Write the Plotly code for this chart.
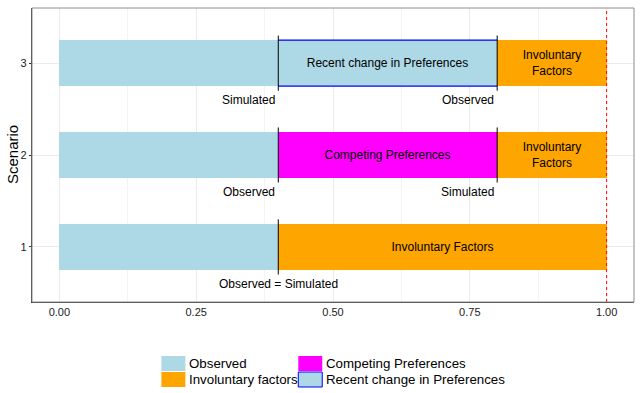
import plotly.graph_objects as go

# ---- data ----
scenarios = [1, 2, 3]
observed_start = [0.0, 0.0, 0.0]
observed_end = [0.4, 0.4, 0.4]

competing_scenario = [2]
competing_start = [0.4]
competing_end = [0.8]

recent_scenario = [3]
recent_start = [0.4]
recent_end = [0.8]

involuntary_start = [0.4, 0.8, 0.8]
involuntary_end = [1.0, 1.0, 1.0]
involuntary_text = ["Involuntary Factors", "Involuntary<br>Factors", "Involuntary<br>Factors"]

# black separator marks: (scenario, x)
mark_scenario = [1, 2, 2, 3, 3]
mark_x = [0.4, 0.4, 0.8, 0.4, 0.8]

# labels under the bars
label_scenario = [1, 2, 2, 3, 3]
label_x = [0.4, 0.4, 0.8, 0.4, 0.8]
label_text = ["Observed = Simulated", "Observed", "Simulated", "Simulated", "Observed"]
label_anchor = ["center", "right", "right", "right", "right"]

x_ticks = [0.0, 0.25, 0.5, 0.75, 1.0]
x_ticktext = ["0.00", "0.25", "0.50", "0.75", "1.00"]
x_minor = [0.125, 0.375, 0.625, 0.875]
y_ticks = [1, 2, 3]
y_ticktext = ["1", "2", "3"]

legend_labels = ["Observed", "Involuntary factors", "Competing Preferences", "Recent change in Preferences"]
legend_fill = ["#ADD8E6", "#FFA500", "#FF00FF", "#ADD8E6"]
legend_line = ["#ADD8E6", "#FFA500", "#FF00FF", "#0000FF"]

FONT = "Liberation Sans, Arial, Helvetica, sans-serif"
C_OBS = "#ADD8E6"
C_INV = "#FFA500"
C_COMP = "#FF00FF"
C_OUTLINE = "#0000FF"
BAR_W = 0.5

# plot-area geometry in pixels
W, H = 640, 393
ML, MR, MT, MB = 31.5, 6, 8, 91
PW = W - ML - MR
PH = H - MT - MB

fig = go.Figure()

def diff(a, b):
    return [e - s for s, e in zip(a, b)]

fig.add_trace(go.Bar(
    y=scenarios, x=diff(observed_start, observed_end), base=observed_start,
    orientation="h", width=BAR_W, marker=dict(color=C_OBS, line=dict(width=0)),
    name="Observed", showlegend=False, hoverinfo="skip"))

fig.add_trace(go.Bar(
    y=competing_scenario, x=diff(competing_start, competing_end), base=competing_start,
    orientation="h", width=BAR_W, marker=dict(color=C_COMP, line=dict(width=0)),
    text=["Competing Preferences"], textposition="inside", insidetextanchor="middle",
    textfont=dict(size=12, color="black", family=FONT), textangle=0,
    name="Competing Preferences", showlegend=False, hoverinfo="skip"))

fig.add_trace(go.Bar(
    y=recent_scenario, x=diff(recent_start, recent_end), base=recent_start,
    orientation="h", width=BAR_W, marker=dict(color=C_OBS, line=dict(width=0)),
    text=["Recent change in Preferences"], textposition="inside", insidetextanchor="middle",
    textfont=dict(size=12, color="black", family=FONT), textangle=0,
    name="Recent change in Preferences", showlegend=False, hoverinfo="skip"))

fig.add_trace(go.Bar(
    y=scenarios, x=diff(involuntary_start, involuntary_end), base=involuntary_start,
    orientation="h", width=BAR_W, marker=dict(color=C_INV, line=dict(width=0)),
    text=involuntary_text, textposition="inside", insidetextanchor="middle",
    textfont=dict(size=12, color="black", family=FONT), textangle=0,
    name="Involuntary factors", showlegend=False, hoverinfo="skip"))

# blue outline (top & bottom edges) of the "Recent change" bar
ox, oy = [], []
for s, a, b in zip(recent_scenario, recent_start, recent_end):
    for edge in (s + BAR_W / 2, s - BAR_W / 2):
        ox += [a, b, None]
        oy += [edge, edge, None]
fig.add_trace(go.Scatter(x=ox, y=oy, mode="lines", line=dict(color=C_OUTLINE, width=1.3),
                         showlegend=False, hoverinfo="skip"))

# separator marks
mx, my = [], []
for s, x in zip(mark_scenario, mark_x):
    mx += [x, x, None]
    my += [s - 0.3, s + 0.3, None]
fig.add_trace(go.Scatter(x=mx, y=my, mode="lines", line=dict(color="black", width=1),
                         showlegend=False, hoverinfo="skip"))

# red dashed reference line at 1
fig.add_trace(go.Scatter(x=[1.0, 1.0], y=[0.4, 3.6], mode="lines",
                         line=dict(color="red", width=1, dash="3px,3px"),
                         showlegend=False, hoverinfo="skip"))

annotations = []
for s, x, t, a in zip(label_scenario, label_x, label_text, label_anchor):
    annotations.append(dict(x=x, y=s - 0.4, xref="x", yref="y", text=t, showarrow=False,
                            xanchor=a, yanchor="middle", font=dict(size=12, family=FONT, color="black"),
                            xshift=-1 if a == "right" else 0))

# y-axis title
annotations.append(dict(xref="paper", yref="paper", x=(11.5 - ML) / PW, y=0.5, text="Scenario",
                        textangle=-90, showarrow=False, xanchor="center", yanchor="middle",
                        font=dict(size=15, family=FONT, color="black")))

# manual legend (pixel positions converted to paper coords)
shapes = []
leg_col_x = [161, 298]
leg_row_y = [356, 372]
key_w, key_h = 24, 15
def px(x):
    return (x - ML) / PW
def py(y):
    return (H - MB - y) / PH
for i, (lab, fc, lc) in enumerate(zip(legend_labels, legend_fill, legend_line)):
    col, row = divmod(i, 2)
    x0 = leg_col_x[col]
    y0 = leg_row_y[row]
    shapes.append(dict(type="rect", xref="paper", yref="paper",
                       x0=px(x0), x1=px(x0 + key_w), y0=py(y0), y1=py(y0 + key_h),
                       fillcolor=fc, line=dict(color=lc, width=1 if lc != fc else 0)))
    annotations.append(dict(xref="paper", yref="paper",
                            x=px(x0 + key_w + 1.5), y=py(y0 + key_h / 2),
                            text=lab, showarrow=False, xanchor="left", yanchor="middle",
                            font=dict(size=13.3, family=FONT, color="black")))

# panel border (gray top/right)
shapes.append(dict(type="rect", xref="x domain", yref="y domain", x0=0, x1=1, y0=0, y1=1,
                   line=dict(color="#8c8c8c", width=1), fillcolor="rgba(0,0,0,0)", layer="above"))

fig.update_layout(
    width=W, height=H,
    margin=dict(l=ML, r=MR, t=MT, b=MB, autoexpand=False),
    paper_bgcolor="white", plot_bgcolor="white",
    barmode="overlay", bargap=0,
    font=dict(family=FONT, color="black"),
    showlegend=False,
    annotations=annotations,
    shapes=shapes,
)
fig.update_xaxes(range=[-0.05, 1.05], tickvals=x_ticks, ticktext=x_ticktext,
                 showgrid=True, gridcolor="#ebebeb", gridwidth=1,
                 minor=dict(tickvals=x_minor, showgrid=True, gridcolor="#f4f4f4", gridwidth=1),
                 showline=True, linecolor="#333333", linewidth=1.3,
                 ticks="", tickfont=dict(size=11, color="#222222"), zeroline=False,
                 automargin=False)
fig.update_yaxes(range=[0.4, 3.6], tickvals=y_ticks, ticktext=y_ticktext,
                 showgrid=True, gridcolor="#ebebeb", gridwidth=1,
                 showline=True, linecolor="#333333", linewidth=1.3,
                 ticks="outside", ticklen=2, tickcolor="#333333",
                 tickfont=dict(size=11, color="#222222"), zeroline=False,
                 automargin=False)

fig.write_html("out.html", config={"displayModeBar": False},
               post_script="document.body.style.margin='0';document.body.style.overflow='hidden';")
